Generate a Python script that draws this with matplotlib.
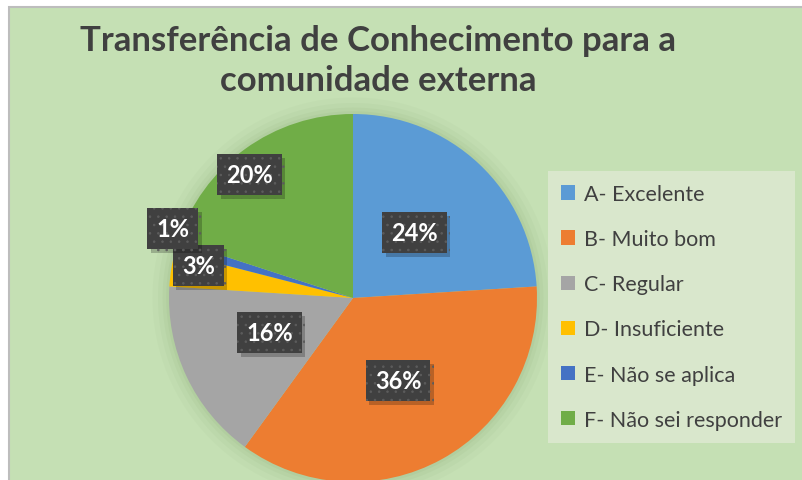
"""
Pie chart: Transferencia de Conhecimento para a comunidade externa
"""
import numpy as np
import matplotlib
matplotlib.use('Agg')
import matplotlib.pyplot as plt
import matplotlib.patheffects as pe
from matplotlib.patches import Rectangle, Circle

# Data
categories = ['A- Excelente', 'B- Muito bom', 'C- Regular',
              'D- Insuficiente', 'E- Não se aplica', 'F- Não sei responder']
percentages = [24, 36, 16, 3, 1, 20]
colors = ['#5B9BD5', '#ED7D31', '#A5A5A5', '#FFC000', '#4472C4', '#70AD47']
title = 'Transferência de Conhecimento para a\ncomunidade externa'

# label distance from centre (fraction of radius) per slice
label_radius = [0.49, 0.51, 0.49, 0.86, 1.05, 0.875]
label_angle_shift = [0, 0, -3, -3, -5, 4]

plt.rcParams['font.family'] = ['Lato', 'DejaVu Sans']
plt.rcParams['hatch.linewidth'] = 0.6

W, H = 803, 481
fig = plt.figure(figsize=(W / 100, H / 100), dpi=100)
fig.patch.set_facecolor('white')

# chart area background with grey border on top/left
fig.patches.append(Rectangle((9 / W, -0.01), 1.0, (H - 8) / H + 0.01,
                             transform=fig.transFigure, facecolor='#C5E0B4',
                             edgecolor='#BDBDBD', linewidth=1.5, zorder=-5))

# pie axes: centre at (353, 299) px, radius 184 px
cx, cy, r = 353, 299, 184
ax = fig.add_axes([(cx - r) / W, (H - cy - r) / H, 2 * r / W, 2 * r / H])
ax.patch.set_visible(False)

# soft halo around pie
for k, a in zip([1.09, 1.06, 1.035, 1.015], [0.04, 0.05, 0.06, 0.07]):
    ax.add_patch(Circle((0, 0.0), k, color='#6a8f55', alpha=a, lw=0,
                        clip_on=False, zorder=0))

wedges, _ = ax.pie(percentages, colors=colors, startangle=90, counterclock=False,
                   radius=1, wedgeprops=dict(linewidth=0))
for w in wedges:
    w.set_clip_on(False)
    w.set_zorder(1)
ax.set_xlim(-1, 1)
ax.set_ylim(-1, 1)
ax.set_axis_off()

# percentage labels
for w, p, lr, sh in zip(wedges, percentages, label_radius, label_angle_shift):
    ang = np.deg2rad((w.theta1 + w.theta2) / 2 + sh)
    x, y = lr * np.cos(ang), lr * np.sin(ang)
    t = ax.text(x, y, f'{p}%', ha='center', va='center', fontsize=17,
                fontweight='bold', color='white', zorder=4,
                bbox=dict(boxstyle='square,pad=0.38', facecolor='#404040',
                          edgecolor='#5c5c5c', linewidth=0, hatch='..'))
    t.get_bbox_patch().set_path_effects([
        pe.SimplePatchShadow(offset=(2.5, -3), shadow_rgbFace='black', alpha=0.22),
        pe.Normal()])

# title
fig.text(378 / W, 1 - 61 / H, title, ha='center', va='center', fontsize=25,
         fontweight='bold', color='#404040', linespacing=1.3)

# legend
leg = fig.legend(wedges, categories, loc='upper left',
                 bbox_to_anchor=(548 / W, 1 - 172 / H), frameon=True,
                 fancybox=False, fontsize=15.5, labelcolor='#404040',
                 handlelength=0.65, handleheight=0.65, handletextpad=0.4,
                 labelspacing=1.17, borderpad=0.6, borderaxespad=0)
leg.get_frame().set_facecolor('#D9E7CC')
leg.get_frame().set_edgecolor('none')
leg.get_frame().set_alpha(1)

plt.savefig('out.png', dpi=100)
